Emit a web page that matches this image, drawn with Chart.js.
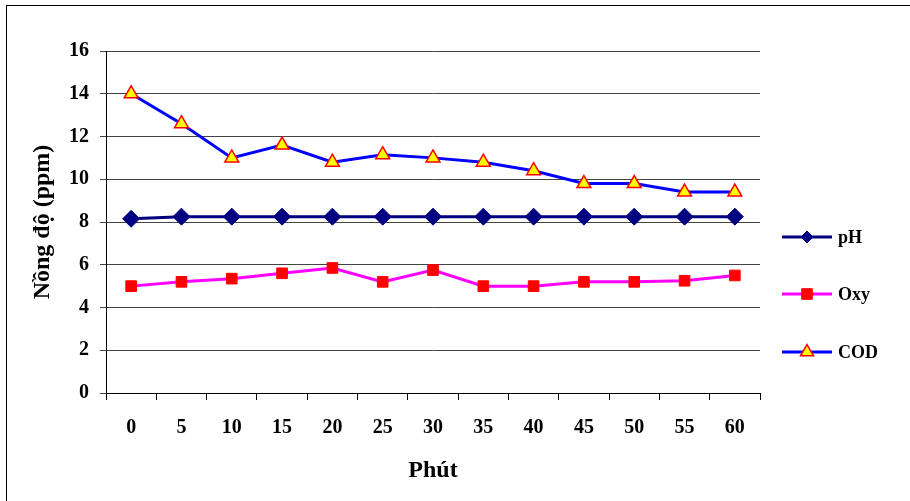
<!DOCTYPE html>
<html>
	<head>
		<style type="text/css">
			body { margin: 0; background: #fff; }
			#wrap { width: 910px; height: 501px; }
		</style>
	</head>
	<body>
		<div id="wrap"><canvas id="myChart" width="910" height="501"></canvas></div>
		<script src="https://cdn.jsdelivr.net/npm/chart.js"></script>
		<script>
		var minutes = ["0", "5", "10", "15", "20", "25", "30", "35", "40", "45", "50", "55", "60"];
		var phValues = [8.15, 8.25, 8.25, 8.25, 8.25, 8.25, 8.25, 8.25, 8.25, 8.25, 8.25, 8.25, 8.25];
		var oxyValues = [5.0, 5.2, 5.35, 5.6, 5.85, 5.2, 5.75, 5.0, 5.0, 5.2, 5.2, 5.25, 5.5];
		var codValues = [14.0, 12.6, 11.0, 11.6, 10.8, 11.15, 11.0, 10.8, 10.4, 9.8, 9.8, 9.4, 9.4];
		var yTicks = [0, 2, 4, 6, 8, 10, 12, 14, 16];

		var serif = "'Liberation Serif', 'Times New Roman', serif";

		// legend on the right: line + marker + label, like the spreadsheet one
		var sideLegend = {
			id: 'sideLegend',
			afterDraw: function(chart) {
				var c = chart.ctx;
				var rows = [237, 294, 352];
				c.save();
				chart.data.datasets.forEach(function(ds, i) {
					var y = rows[i];
					c.strokeStyle = ds.borderColor;
					c.lineWidth = 3;
					c.beginPath();
					c.moveTo(782, y);
					c.lineTo(832, y);
					c.stroke();
					c.fillStyle = ds.pointBackgroundColor;
					c.strokeStyle = ds.pointBorderColor;
					c.lineWidth = ds.pointBorderWidth;
					Chart.helpers.drawPoint(c, {
						pointStyle: ds.pointStyle,
						radius: ds.legendRadius,
						borderWidth: ds.pointBorderWidth
					}, 807, y);
					c.fillStyle = '#000';
					c.font = 'bold 18px ' + serif;
					c.textBaseline = 'middle';
					c.textAlign = 'left';
					c.fillText(ds.label, 838, y + 1);
				});
				// outer frame
				c.strokeStyle = '#000';
				c.lineWidth = 1;
				c.strokeRect(6.5, 5.5, 940, 540);
				c.restore();
			}
		};

		var ctx = document.getElementById("myChart").getContext('2d');
		var myChart = new Chart(ctx, {
			type: 'line',
			data: {
				labels: minutes,
				datasets: [
					{label: "pH", data: phValues, borderColor: "#000080", borderWidth: 3,
						pointStyle: 'rectRot', pointRadius: 8.5, legendRadius: 6,
						pointBackgroundColor: "#000080", pointBorderColor: "#000080", pointBorderWidth: 1,
						lineTension: 0, fill: false},
					{label: "Oxy", data: oxyValues, borderColor: "#FF00FF", borderWidth: 3,
						pointStyle: 'rect', pointRadius: 7.5, legendRadius: 7.5,
						pointBackgroundColor: "#FF0000", pointBorderColor: "#FF0000", pointBorderWidth: 1,
						lineTension: 0, fill: false},
					{label: "COD", data: codValues, borderColor: "#0000FF", borderWidth: 3,
						pointStyle: 'triangle', pointRadius: 8, legendRadius: 7.5,
						pointBackgroundColor: "#FFFF00", pointBorderColor: "#FF0000", pointBorderWidth: 1.5,
						lineTension: 0, fill: false}
				]
			},
			options: {
				responsive: false,
				animation: false,
				layout: { padding: { left: 24, right: 150, top: 51, bottom: 6 } },
				plugins: {
					legend: { display: false },
					tooltip: { enabled: false }
				},
				scales: {
					x: {
						offset: true,
						grid: { offset: true, drawOnChartArea: false, drawTicks: true, tickLength: 7, color: '#000' },
						border: { color: '#000', width: 1 },
						ticks: { color: '#000', font: { family: serif, size: 20, weight: 'bold' }, padding: 16, maxRotation: 0 },
						title: { display: true, text: 'Phút', color: '#000', font: { family: serif, size: 24, weight: 'bold' }, padding: { top: 2, bottom: 10 } },
						afterFit: function(s) { s.height = 102; }
					},
					y: {
						min: 0, max: 16,
						afterBuildTicks: function(s) { s.ticks = yTicks.map(function(v) { return {value: v}; }); },
						grid: { color: '#444', lineWidth: 1, tickLength: 6 },
						border: { color: '#000', width: 1 },
						ticks: { color: '#000', font: { family: serif, size: 20, weight: 'bold' }, padding: 11 },
						title: { display: true, text: 'Nồng độ (ppm)', color: '#000', font: { family: serif, size: 24, weight: 'bold' }, padding: { bottom: 6 } },
						afterFit: function(s) { s.width = 82; }
					}
				}
			},
			plugins: [sideLegend]
		});
		</script>
	</body>
</html>
